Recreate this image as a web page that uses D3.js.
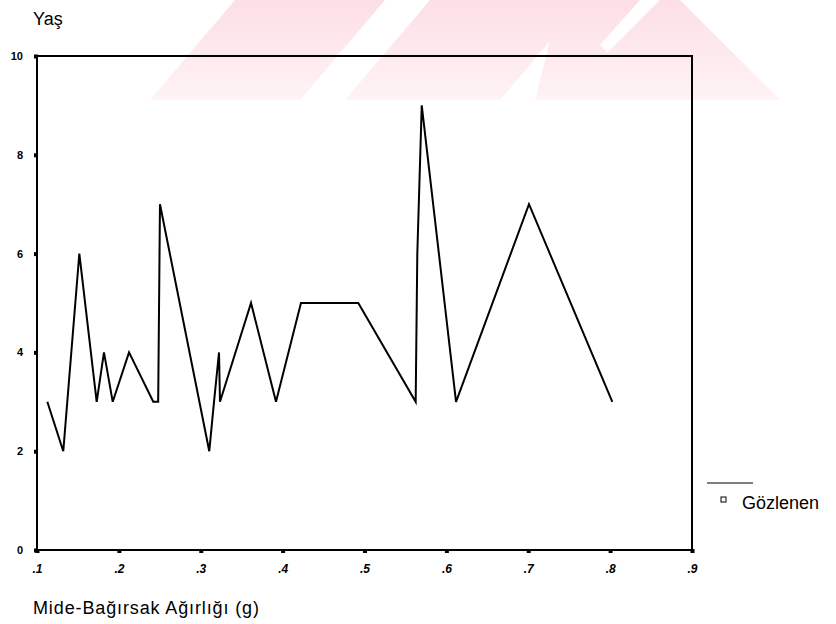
<!DOCTYPE html>
<html>
<head>
<meta charset="utf-8">
<script src="https://cdn.jsdelivr.net/npm/d3@7"></script>
<style>
  html, body { margin: 0; padding: 0; background: #fff; }
  svg { display: block; }
</style>
</head>
<body>
<script>
// Observed age by gut weight (g)
const weights = [0.1126, 0.1321, 0.1517, 0.1729, 0.1818, 0.1925, 0.2124, 0.2420, 0.2480, 0.2502,
                 0.3104, 0.3162, 0.3223, 0.3235, 0.3614, 0.3919, 0.4224, 0.4924,
                 0.5625, 0.5645, 0.5699, 0.6118, 0.7009, 0.8027];
const ages    = [3, 2, 6, 3, 4, 3, 4, 3, 3, 7,
                 2, 3, 4, 3, 5, 3, 5, 5,
                 3, 6, 9, 3, 7, 3];
const xTickValues = [0.1, 0.2, 0.3, 0.4, 0.5, 0.6, 0.7, 0.8, 0.9];
const xTickLabels = [".1", ".2", ".3", ".4", ".5", ".6", ".7", ".8", ".9"];
const yTickValues = [0, 2, 4, 6, 8, 10];
const yTickLabels = ["0", "2", "4", "6", "8", "10"];
const yTitle = "Yaş";
const xTitle = "Mide-Bağırsak Ağırlığı (g)";
const legendLabel = "Gözlenen";

const W = 836, H = 624;
const plot = { left: 37, right: 692, top: 56, bottom: 550 };

const svg = d3.select("body").append("svg")
  .attr("width", W).attr("height", H)
  .style("font-family", "'Liberation Sans', Arial, sans-serif");

svg.append("rect").attr("width", W).attr("height", H).attr("fill", "#fff");

// faint pink stripes along the top of the page
const defs = svg.append("defs");
const grad = defs.append("linearGradient").attr("id", "pinkfade")
  .attr("x1", 0).attr("y1", 0).attr("x2", 0).attr("y2", 1);
grad.append("stop").attr("offset", "0%").attr("stop-color", "#fcdfe4");
grad.append("stop").attr("offset", "100%").attr("stop-color", "#fff3f5");
const stripes = [
  [[150, 100], [300, 100], [385, 0], [235, 0]],
  [[345, 100], [500, 100], [585, 0], [430, 0]],
  [[535, 100], [655, 100], [600, 45], [640, 0], [560, 0]],
  [[560, 100], [780, 100], [680, 0], [660, 0]]
];
svg.append("g").selectAll("polygon").data(stripes).join("polygon")
  .attr("points", d => d.map(p => p.join(",")).join(" "))
  .attr("fill", "url(#pinkfade)");

const x = d3.scaleLinear().domain([0.1, 0.9]).range([plot.left, plot.right]);
const y = d3.scaleLinear().domain([0, 10]).range([plot.bottom, plot.top]);

// frame
svg.append("rect")
  .attr("x", plot.left).attr("y", plot.top)
  .attr("width", plot.right - plot.left).attr("height", plot.bottom - plot.top)
  .attr("fill", "none").attr("stroke", "#000").attr("stroke-width", 2);

// axes
const xAxis = d3.axisBottom(x).tickValues(xTickValues)
  .tickFormat((d, i) => xTickLabels[i]).tickSize(4).tickPadding(10);
const gx = svg.append("g").attr("transform", `translate(0,${plot.bottom})`).call(xAxis);
gx.select(".domain").remove();
gx.selectAll(".tick line").attr("stroke", "#000").attr("stroke-width", 4).attr("y1", -1).attr("y2", 3);
gx.selectAll(".tick text").attr("fill", "#000").attr("font-size", 12).attr("font-weight", "bold")
  .attr("font-style", "italic");

const yAxis = d3.axisLeft(y).tickValues(yTickValues)
  .tickFormat((d, i) => yTickLabels[i]).tickSize(4).tickPadding(10);
const gy = svg.append("g").attr("transform", `translate(${plot.left},0)`).call(yAxis);
gy.select(".domain").remove();
gy.selectAll(".tick line").attr("stroke", "#000").attr("stroke-width", 4).attr("x1", 1).attr("x2", -3);
gy.selectAll(".tick text").attr("fill", "#000").attr("font-size", 11).attr("font-weight", "bold");

// observed series
const pts = weights.map((w, i) => [w, ages[i]]);
svg.append("path")
  .datum(pts)
  .attr("fill", "none").attr("stroke", "#000").attr("stroke-width", 2)
  .attr("stroke-linejoin", "miter")
  .attr("d", d3.line().x(d => x(d[0])).y(d => y(d[1])));

// titles
svg.append("text").attr("x", 33).attr("y", 25).attr("font-size", 18).attr("fill", "#000").text(yTitle);
svg.append("text").attr("x", 33).attr("y", 614).attr("font-size", 18).attr("fill", "#000")
  .attr("textLength", 226).text(xTitle);

// legend
const lg = svg.append("g");
lg.append("line").attr("x1", 707).attr("x2", 753).attr("y1", 483).attr("y2", 483)
  .attr("stroke", "#000").attr("stroke-width", 1);
lg.append("rect").attr("x", 721).attr("y", 497).attr("width", 5).attr("height", 5)
  .attr("fill", "none").attr("stroke", "#000").attr("stroke-width", 1);
lg.append("text").attr("x", 742).attr("y", 509).attr("font-size", 18).attr("fill", "#000")
  .text(legendLabel);
</script>
</body>
</html>
